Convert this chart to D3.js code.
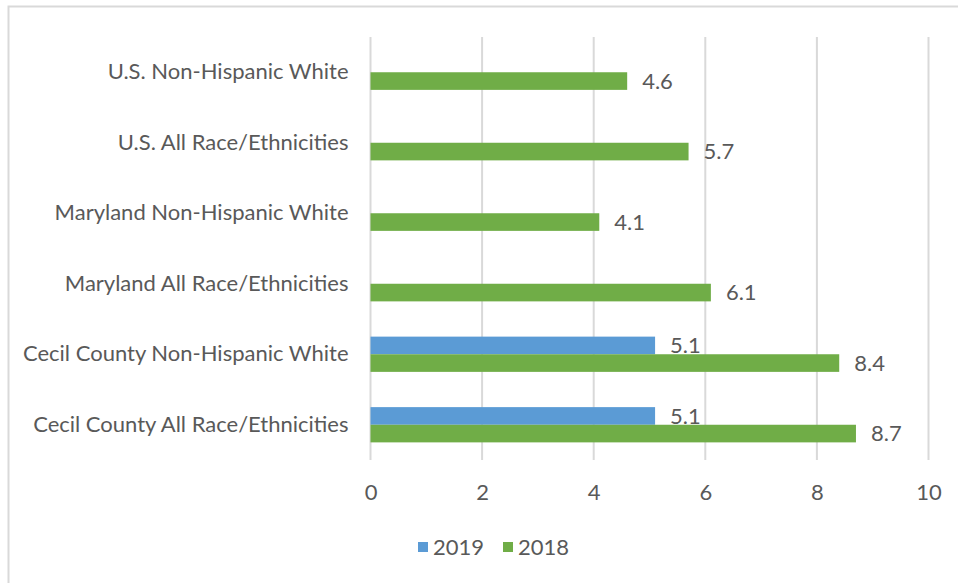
<!DOCTYPE html>
<html>
<head>
<meta charset="utf-8">
<script src="https://cdn.jsdelivr.net/npm/d3@7"></script>
<style>
  body { margin: 0; background: white; }
  text { font-family: Lato, "Open Sans", sans-serif; fill: #595959; }
</style>
</head>
<body>
<script>

// chart values
var categories = ["U.S. Non-Hispanic White", "U.S. All Race/Ethnicities",
                  "Maryland Non-Hispanic White", "Maryland All Race/Ethnicities",
                  "Cecil County Non-Hispanic White", "Cecil County All Race/Ethnicities"];
var seriesNames = ["2019", "2018"];
var values2019 = [null, null, null, null, 5.1, 5.1];
var values2018 = [4.6, 5.7, 4.1, 6.1, 8.4, 8.7];
var xTicks = [0, 2, 4, 6, 8, 10];

var seriesColors = ["#5b9bd5", "#70ad47"];

var width = 958, height = 583;
var margin = {top: 37, left: 370.5, right: 29.5, bottom: 123};
var plotW = width - margin.left - margin.right;
var plotH = height - margin.top - margin.bottom;
var fontSize = "22px";

function start()
{
  var svg = d3.select("body").append("svg")
              .attr("width", width)
              .attr("height", height);

  // chart frame (only top/left visible in the crop)
  svg.append("rect").attr("x", 8.5).attr("y", 6.5)
                    .attr("width", width + 20).attr("height", height + 20)
                    .style("fill", "white").style("stroke", "#d9d9d9").style("stroke-width", 2);

  var xScale = d3.scaleLinear().domain([0, 10]).range([0, plotW]);
  var yScale = d3.scaleBand().domain(categories).range([0, plotH]).paddingInner(0.5).paddingOuter(0.25);
  var inner = d3.scaleBand().domain(seriesNames).range([0, yScale.bandwidth()]);

  var g = svg.append("g").attr("transform", "translate(" + margin.left + "," + margin.top + ")");

  // gridlines
  g.selectAll("line.grid").data(xTicks).enter().append("line")
   .attr("class", "grid")
   .attr("x1", function(d) { return xScale(d); })
   .attr("x2", function(d) { return xScale(d); })
   .attr("y1", 0).attr("y2", plotH)
   .style("stroke", "#d9d9d9").style("stroke-width", 2);

  // x tick labels
  var xAxis = d3.axisBottom(xScale).tickValues(xTicks).tickSize(0).tickPadding(0);
  var ax = g.append("g").attr("transform", "translate(0," + (plotH + 24) + ")").call(xAxis);
  ax.select(".domain").remove();
  ax.selectAll("text").attr("font-size", fontSize).attr("dy", "0.71em").style("fill", "#595959")
    .style("font-family", "Lato, 'Open Sans', sans-serif");

  // category labels
  var yAxis = d3.axisLeft(yScale).tickSize(0).tickPadding(22);
  var ay = g.append("g").call(yAxis);
  ay.select(".domain").remove();
  ay.selectAll("text").attr("font-size", fontSize).style("fill", "#595959")
    .style("font-family", "Lato, 'Open Sans', sans-serif");

  var series = [values2019, values2018];
  series.forEach(function(vals, si)
  {
    var rows = categories.map(function(c, i) { return {cat: c, v: vals[i]}; })
                         .filter(function(d) { return d.v != null; });
    var sg = g.append("g");
    sg.selectAll("rect").data(rows).enter().append("rect")
      .attr("x", 0)
      .attr("y", function(d) { return yScale(d.cat) + inner(seriesNames[si]); })
      .attr("width", function(d) { return xScale(d.v); })
      .attr("height", inner.bandwidth())
      .style("fill", seriesColors[si]);

    sg.selectAll("text").data(rows).enter().append("text")
      .attr("x", function(d) { return xScale(d.v) + 15; })
      .attr("y", function(d) { return yScale(d.cat) + inner(seriesNames[si]) + inner.bandwidth() / 2; })
      .attr("dy", "0.35em")
      .attr("font-size", fontSize)
      .text(function(d) { return d.v.toFixed(1); });
  });

  // legend
  var legend = svg.append("g").attr("transform", "translate(418,547)");
  var lx = [0, 85];
  seriesNames.forEach(function(name, i)
  {
    legend.append("rect").attr("x", lx[i]).attr("y", -5).attr("width", 10).attr("height", 10)
          .style("fill", seriesColors[i]);
    legend.append("text").attr("x", lx[i] + 15).attr("y", 0).attr("dy", "0.35em")
          .attr("font-size", fontSize).text(name);
  });
}

start();
</script>
</body>
</html>
